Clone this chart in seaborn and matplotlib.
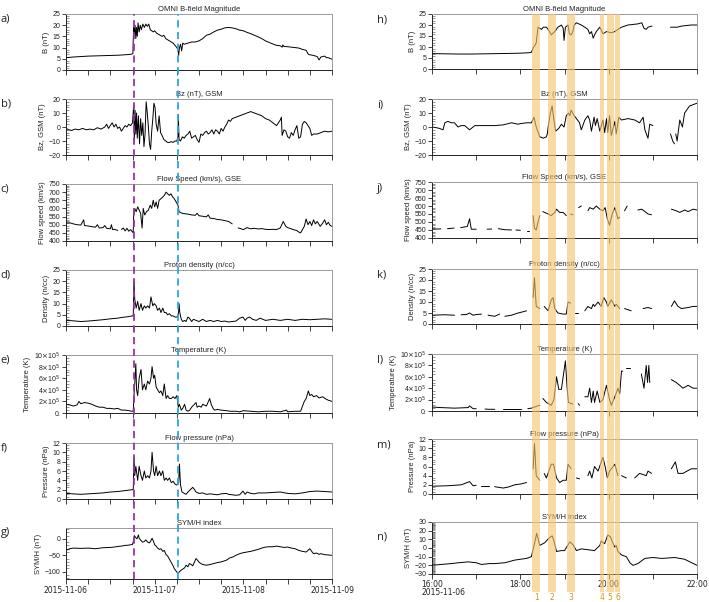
import numpy as np
import pandas as pd
import matplotlib
matplotlib.use("Agg")
import matplotlib.pyplot as plt
from matplotlib.ticker import MultipleLocator, FixedLocator
import seaborn as sns

nan = np.nan

# ---------------------------------------------------------------------------
# Daten (Stunden ab 2015-11-06 00:00, Werte abgelesen)
# ---------------------------------------------------------------------------
B_LEFT = [(0, 5.5), (2, 5.8), (4, 6.0), (6, 6.2), (8, 6.3), (10, 6.4), (12, 6.5), (14, 6.6), (16, 6.8),
          (17.5, 7.0), (18.1, 7.3), (18.3, 19), (18.5, 16), (18.7, 20), (18.9, 14), (19.1, 19), (19.3, 15),
          (19.5, 21), (19.8, 17), (20.1, 20), (20.4, 18), (20.8, 20.5), (21.2, 19), (21.6, 20.5), (22.0, 19.5),
          (22.4, 20.5), (22.8, 18), (23.2, 17.5), (23.6, 17), (24.0, 17.5), (24.5, 16.5), (25.0, 16),
          (25.5, 15.5), (26.0, 15), (26.5, 15.5), (27.0, 14), (27.5, 13.5), (28.0, 13), (28.5, 12.5),
          (29.0, 12), (29.5, 11), (30.0, 10), (30.3, 9), (30.5, 6.5), (30.7, 10), (31.0, 11.5), (31.3, 8.5),
          (31.6, 12), (32.0, 11.5), (33, 12), (34, 12.5), (35, 12.5), (36, 13), (37, 14), (38, 15.5), (39, 16),
          (40, 17), (41, 17.8), (42, 18.2), (43, 18.8), (44, 19), (45, 18.8), (46, 18.4), (47, 17.8),
          (48, 17.5), (49, 16.8), (50, 16.2), (51, 15.5), (52, 14.8), (53, 14), (54, 13), (55, 12.3),
          (56, 11.6), (57, 11), (58, 10.8), (58.5, 10.2), (58.7, 11.2), (59, 10.5), (60, 10.4), (61, 10.2),
          (62, 10.0), (63, 9.8), (64, 9.2), (65, 8.8), (65.6, 7), (66, 6.8), (67, 6.5), (68, 6.0),
          (68.5, 4.5), (69, 5.8), (70, 6.2), (70.5, 5.5), (71, 5.5), (72, 4.8)]

BZ_LEFT = [(0, -1), (0.8, -2), (1.5, -2.5), (2.5, -1.5), (3.5, -2), (4.5, -1), (5.5, -2), (6.5, -1.5),
           (7.5, -2), (8.5, -0.5), (9.5, -1.5), (10.5, 0), (11, 2), (11.5, -1), (12, 1), (12.5, 3), (13, 0),
           (13.5, 2), (14, -1), (14.5, 0), (15, -3), (15.5, -1), (16, 1), (16.5, 0), (17, 2), (17.5, 1),
           (18, 3), (18.3, 15), (18.5, -10), (18.7, 12), (18.9, -5), (19.1, 10), (19.3, -8), (19.6, 8),
           (19.9, -12), (20.2, 6), (20.5, -6), (20.8, 3), (21.1, -14), (21.4, -5), (21.7, 18), (22.0, 10),
           (22.3, 0), (22.6, -12), (22.9, -16), (23.2, -3), (23.5, 6), (23.8, 17), (24.1, 14), (24.4, 2),
           (24.8, -3), (25.2, 8), (25.6, -4), (26.0, -6), (26.5, -9), (27, -10), (27.5, -11), (28, -11),
           (28.5, -10.5), (29, -11), (29.5, -10), (30, -10), (30.3, -7), (30.4, 9), (30.6, -9), (31, -10),
           (31.5, -7), (32, -8), (32.5, -6), (33, -5), (33.5, -3), (34, -8), (34.5, -7), (35, -6), (35.5, -9),
           (36, -11), (36.5, -5), (37, -6), (37.5, -4), (38, -3), (38.5, -5), (39, -4), (39.5, -2), (40, -5),
           (40.5, -2), (41, -3), (41.5, -5), (42, -1), (42.5, -3), (43, 0), (43.5, 2), (44, 5), (44.5, 4),
           (45, 6), (46, 7), (47, 8), (48, 9), (49, 10), (50, 11), (51, 10), (52, 9), (53, 8), (54, 6),
           (55, 5), (56, 3), (57, 1), (57.5, 3), (58, 5), (58.3, 7), (58.5, -6), (59, -2), (59.5, -3),
           (60, -7), (60.5, -8), (61, -4), (61.5, -6), (62, -2), (62.5, 1), (63, -8), (63.5, -7), (64, 2),
           (64.5, 4), (65, 3), (65.5, 1), (66, -1), (66.5, -6), (67, -5), (68, -5), (69, -4), (70, -3),
           (71, -3.5), (72, -3)]

V_LEFT = [(0, 510), (1, 512), (2, 505), (3, 500), (4, 498), (4.8, 530), (5, 495), (6, 492), (7, 488),
          (8, 485), (8.5, 500), (9, 480), (10, 482), (10.5, 495), (11, 478), (12, 475), (12.3, 500),
          (12.6, 470), (13, 472), (14, 465), (14.5, nan), (15, 470), (15.5, 480), (16, 462), (16.5, 478),
          (17, 460), (17.5, 470), (18, 455), (18.2, 452), (18.3, 550), (18.6, 600), (19.0, 580), (19.4, 610),
          (19.8, 590), (20.2, 570), (20.6, 480), (20.9, 600), (21.3, 560), (21.8, 580), (22.3, 590),
          (22.8, 620), (23.2, 600), (23.6, 650), (24.0, 610), (24.4, 640), (24.8, 600), (25.2, 650),
          (25.7, 660), (26.2, 670), (26.6, 680), (27.1, 700), (27.5, 690), (28.0, 680), (28.4, 690),
          (28.9, 670), (29.3, 660), (29.8, 640), (30.3, 620), (30.6, 580), (31, 575), (31.5, 570),
          (32, 568), (33, 565), (34, 560), (35, 558), (35.5, 570), (36, 555), (37, 552), (38, 548),
          (38.5, 560), (39, 540), (40, 538), (41, 532), (42, 530), (43, 525), (44, 520), (45, 505),
          (45.6, nan), (46.6, 480), (47, 478), (48, 470), (49, 482), (50, 475), (51, 478), (52, 474),
          (53, 476), (54, 472), (55, 470), (56, 472), (57, 470), (58, 480), (58.8, 520), (59.5, 490),
          (60, 482), (60.6, 478), (61.5, 470), (62.4, 465), (63, 455), (63.5, 450), (64, 470), (64.5, 490),
          (65, 535), (65.5, 500), (66, 520), (66.5, 495), (67, 530), (67.5, 505), (68, 520), (68.8, 490),
          (69.5, 510), (70, 530), (70.5, 500), (71, 515), (71.5, 495), (72, 490)]

N_LEFT = [(0, 2.5), (2, 2.3), (4, 2), (6, 2.2), (8, 2.5), (10, 2.8), (12, 3.2), (14, 3.5), (15, 3.8),
          (16, 4), (17, 4.2), (17.8, 4.5), (18.2, 4.5), (18.4, 21), (18.6, 12), (19, 8), (19.4, 11),
          (19.8, 7), (20.3, 10), (20.7, 7), (21.2, 9), (21.6, 8), (22.1, 9), (22.6, 8), (23.0, 13),
          (23.5, 9), (23.9, 10), (24.4, 9), (24.8, 7), (25.3, 8), (25.7, 6), (26.2, 8), (26.6, 6), (27.1, 6),
          (27.5, 5), (28, 5.5), (28.5, 4.5), (29, 4.5), (29.5, 4), (30, 4), (30.4, 4.5), (30.6, 10),
          (30.8, 6), (31.2, 3), (31.6, 2), (32.1, 2.5), (32.5, 2), (33, 4), (33.4, 3.5), (34, 2), (34.5, 3),
          (35.2, 2.5), (36, 2), (37, 3), (38, 2), (39, 2.5), (40, 2), (41, 2.5), (42, 2), (43, 2.2),
          (44, 1.8), (45, 2), (46, 2.2), (47, 3.5), (47.9, 4), (48.5, 2.5), (49, 3.5), (49.7, 4), (50.5, 3),
          (51.5, 2.5), (52.5, 3.5), (54, 2.5), (56, 3), (58, 2.5), (60, 3), (62, 2.5), (64, 3), (66, 2.8),
          (68, 3), (70, 3.2), (72, 3)]

# Temperatur in Einheiten von 1e5 K
T_LEFT = [(0, 1.5), (1, 1.4), (2, 1.2), (3, 1.4), (3.5, 2.0), (4, 1.6), (5, 1.8), (6, 1.7), (7, 1.5),
          (8, 1.2), (9, 1.0), (10, 1.0), (11, 0.8), (12, 0.8), (13, 0.7), (14, 0.8), (15, 0.5), (16, 0.5),
          (17, 0.4), (17.8, 0.3), (18.2, 0.3), (18.4, 3), (18.6, 5), (18.9, 8.5), (19.1, 4), (19.4, 3),
          (19.8, 6), (20.3, 7.5), (20.7, 4), (21.2, 5), (21.6, 4), (22.1, 5.5), (22.6, 5), (23.0, 6),
          (23.3, 8), (23.7, 6), (24.0, 6.5), (24.4, 4.5), (24.8, 4), (25.3, 3.5), (25.7, 3.8), (26.2, 3),
          (26.6, 5), (27.1, 2.5), (27.5, 3), (28, 2.5), (28.5, 2.5), (29, 2.8), (29.5, 2.5), (30, 3),
          (30.4, 1), (30.7, 1.5), (31.2, 0.5), (31.6, 0.8), (32.1, 1.5), (32.5, 0.5), (33, 0.3), (33.5, 0.5),
          (34, 1), (35.2, 1.8), (35.5, 1), (36, 1.2), (36.6, 1), (37, 1.5), (38, 1.2), (38.9, 2.5),
          (39.3, 1.5), (39.8, 0.8), (40.2, 0.5), (41, 0.6), (42, 0.5), (43.4, 0.4), (44.5, 0.3), (46, 0.3),
          (47, 0.2), (48, 0.4), (50, 0.3), (52, 0.2), (54, 0.3), (56, 0.3), (58, 0.2), (59.7, 0.5), (60, 0.2),
          (62, 0.3), (63.5, 0.3), (64.2, 1.5), (64.5, 2.0), (65, 2.5), (65.6, 3.8), (66, 3), (66.5, 3.2),
          (67, 2.8), (67.8, 3), (68.5, 2.6), (69.5, 2.8), (70.1, 2.5), (71, 2.2), (72, 2)]

P_LEFT = [(0, 1.2), (2, 1.1), (4, 1.0), (6, 1.1), (8, 1.2), (10, 1.3), (12, 1.5), (14, 1.6), (16, 1.8),
          (17, 1.9), (18, 2), (18.2, 2), (18.4, 9), (18.6, 5), (18.9, 7), (19.4, 4), (19.8, 7), (20.3, 5),
          (20.7, 4), (21.2, 6), (21.6, 4.5), (22.1, 5), (22.6, 4.5), (23.0, 6), (23.3, 10), (23.7, 6),
          (24, 5), (24.4, 7), (24.8, 5), (25.3, 6), (25.7, 5), (26.2, 6), (26.6, 4), (27.1, 4.5), (27.5, 4),
          (28, 4.5), (28.5, 3.5), (29, 3.8), (29.5, 3.2), (30, 3), (30.5, 3.5), (30.7, 7.5), (31, 3),
          (31.4, 1.5), (32, 1.2), (32.5, 1), (33, 1.5), (34.3, 2.5), (34.8, 2), (35.2, 1.5), (36, 1.2),
          (37, 1.3), (38, 1), (39, 1.1), (40, 1), (41, 0.9), (42, 1.1), (43.4, 1.2), (44, 1), (45, 0.9),
          (46, 0.8), (47, 0.9), (47.9, 1.7), (48.5, 1), (49, 1.5), (50, 1.2), (51, 1.1), (52, 1.3),
          (54, 1.3), (56, 1.4), (58, 1.5), (60, 1.2), (62, 1.1), (64, 1.3), (66, 1.6), (68, 1.7), (70, 1.6),
          (72, 1.5)]

SYMH_LEFT = [(0, -35), (1, -30), (2, -28), (4, -29), (6, -28), (8, -30), (10, -27), (12, -26), (13, -25),
             (14, -23), (15, -22), (16, -20), (17, -19), (18, -17), (18.3, -5), (18.5, 10), (18.8, 5),
             (19.2, 0), (19.6, 12), (19.8, 2), (20.3, -5), (20.7, -10), (21.2, -8), (21.6, -3), (22.1, -10),
             (22.6, -12), (23.0, -5), (23.3, 2), (23.7, -8), (24.0, -18), (24.4, -22), (24.8, -28),
             (25.3, -32), (25.7, -30), (26.2, -38), (26.6, -35), (27.1, -48), (27.5, -52), (28, -62),
             (28.4, -70), (28.9, -80), (29.3, -90), (29.8, -98), (30.3, -105), (30.7, -100), (31.2, -95),
             (31.6, -92), (32.1, -88), (32.5, -80), (33, -85), (33.4, -75), (33.9, -78), (34.3, -82),
             (35.2, -60), (35.6, -65), (36.1, -72), (37, -78), (38, -80), (39, -78), (40, -75), (41, -72),
             (42, -70), (43.4, -65), (44.3, -58), (45.2, -55), (46, -50), (47, -45), (48, -42), (49, -40),
             (50, -38), (51, -35), (52, -32), (53, -28), (54, -25), (55, -24), (56, -24), (57, -22),
             (58, -24), (59, -26), (60, -25), (61, -28), (62, -30), (63, -35), (64, -38), (65, -40),
             (65.5, -35), (66, -30), (66.5, -38), (67, -45), (67.8, -43), (68.5, -47), (69, -45), (70, -48),
             (71, -49), (72, -50)]

# Rechte Spalte: Uhrzeit (h) am 2015-11-06
B_RIGHT = [(16.0, 7.0), (16.3, 6.9), (16.6, 6.8), (16.9, 6.8), (17.2, 6.9), (17.5, 7.0), (17.8, 7.1),
           (18.0, 7.2), (18.2, 7.4), (18.25, 7.6), (18.3, 10), (18.34, 11), (18.36, 12), (18.4, 19),
           (18.44, 18.5), (18.48, 18), (18.52, 19), (18.59, 19), (18.63, 18), (18.66, 17), (18.70, 15.5),
           (18.75, 16.5), (18.78, 17), (18.85, 19), (18.93, 20), (18.97, 18.5), (18.99, 13), (19.02, 19),
           (19.08, 20), (19.11, 16), (19.15, 15.5), (19.19, 17), (19.22, 20), (19.27, 21), (19.38, 20),
           (19.46, 19), (19.53, 18), (19.57, 16), (19.61, 17), (19.65, 14), (19.68, 15.5), (19.72, 17),
           (19.80, 19), (19.87, 16), (19.95, 17), (20.06, 16.5), (20.14, 17), (20.21, 18), (20.29, 19),
           (20.44, 20), (20.66, 20.5), (20.75, 21), (20.80, 18.5), (20.85, 18), (20.89, 19), (20.98, 19.5),
           (21.0, nan), (21.40, 19), (21.55, 19), (21.65, 19.5), (21.87, 20), (22.0, 20)]

BZ_RIGHT = [(16.0, 0), (16.1, -0.5), (16.17, -1), (16.25, -2), (16.29, 3), (16.36, 4), (16.44, 3),
            (16.51, 3), (16.59, 0), (16.66, 1), (16.74, 1), (16.85, -2), (16.97, 1), (17.12, 1), (17.27, 1),
            (17.42, 1), (17.61, 1.5), (17.80, 3), (17.95, 2), (18.02, 2.5), (18.14, 3), (18.25, 3),
            (18.31, 7), (18.36, 0), (18.44, -7), (18.52, -8), (18.59, -7), (18.61, -5), (18.63, 0),
            (18.68, 10), (18.72, 15), (18.76, 5), (18.80, -3), (18.87, -1), (18.93, 2), (18.99, 0),
            (19.04, 8), (19.09, 10), (19.12, 8), (19.15, 12), (19.22, 8), (19.27, 6), (19.34, 3),
            (19.38, -2), (19.46, 5), (19.53, 8), (19.57, 5), (19.61, -3), (19.67, 7), (19.70, 1), (19.74, 6),
            (19.80, -3), (19.87, 5), (19.91, -4), (19.95, 6), (19.98, -4), (20.02, 8), (20.06, -6),
            (20.14, 4), (20.17, -5), (20.23, 7), (20.29, 5), (20.44, 6), (20.59, 5), (20.70, 3), (20.78, 7),
            (20.82, -2), (20.89, -8), (20.93, 2), (21.0, 1), (21.05, nan), (21.40, -5), (21.45, -10),
            (21.49, -12), (21.50, nan), (21.52, -5), (21.55, -10), (21.61, 5), (21.67, 0), (21.72, 10),
            (21.83, 15), (22.0, 17)]

V_RIGHT = [(16.0, 455), (16.2, 457), (16.3, nan), (16.35, 458), (16.5, 462), (16.6, nan), (16.65, 465),
           (16.8, 472), (16.85, 520), (16.89, 455), (17.0, 455), (17.2, nan), (17.25, 455), (17.35, 456),
           (17.4, nan), (17.5, 458), (17.65, 452), (17.8, 450), (17.85, nan), (17.9, 450), (18.0, 448),
           (18.05, nan), (18.15, 445), (18.2, 445), (18.25, nan), (18.29, 540), (18.32, 460), (18.36, 450),
           (18.40, 500), (18.44, 540), (18.46, nan), (18.51, 565), (18.63, 550), (18.70, 540), (18.78, 560),
           (18.82, 580), (18.89, 560), (18.97, 560), (19.04, 540), (19.06, nan), (19.14, 550), (19.19, 545),
           (19.22, nan), (19.32, 590), (19.38, 600), (19.40, nan), (19.53, 570), (19.57, 590), (19.65, 580),
           (19.72, 600), (19.80, 580), (19.87, 570), (19.92, 590), (19.97, 520), (20.02, 480), (20.08, 550),
           (20.14, 590), (20.21, 520), (20.25, 530), (20.27, nan), (20.36, 570), (20.42, 600), (20.44, nan),
           (20.59, 570), (20.63, nan), (20.66, 575), (20.75, 580), (20.80, 570), (20.89, 550), (20.97, 545),
           (21.0, nan), (21.42, 580), (21.53, 570), (21.61, 560), (21.72, 575), (21.80, 565), (21.91, 580),
           (22.0, 575)]

N_RIGHT = [(16.0, 4), (16.29, 4.2), (16.51, 4), (16.6, nan), (16.66, 4.2), (16.78, 4.3), (16.85, 5),
           (16.93, 4), (17.0, 4.3), (17.12, 4.5), (17.2, nan), (17.27, 4), (17.42, 3.5), (17.53, 4.5),
           (17.6, nan), (17.65, 3.5), (17.80, 4), (17.95, 5), (18.05, 5.5), (18.14, 6), (18.18, nan),
           (18.29, 12), (18.32, 21), (18.36, 8), (18.44, 7), (18.46, nan), (18.54, 8), (18.63, 6),
           (18.70, 11), (18.74, 12), (18.78, 7), (18.85, 5), (18.97, 4.5), (19.04, 4.5), (19.08, 10),
           (19.14, 9.5), (19.16, nan), (19.23, 5), (19.31, 5), (19.33, nan), (19.46, 6), (19.53, 8),
           (19.61, 7), (19.65, 9), (19.68, 8), (19.76, 10), (19.83, 8), (19.89, 12), (19.95, 10), (19.98, 8),
           (20.06, 11), (20.14, 8), (20.17, 9), (20.25, 7), (20.27, nan), (20.36, 7), (20.51, 6), (20.55, nan),
           (20.66, 6), (20.70, nan), (20.78, 7), (20.89, 7.5), (20.97, 7), (21.0, nan), (21.42, 8),
           (21.49, 10.5), (21.57, 8), (21.65, 7), (21.80, 7.5), (21.91, 8), (22.0, 8)]

T_RIGHT = [(16.0, 0.7), (16.2, 0.6), (16.51, 0.5), (16.82, 0.6), (16.85, 0.9), (16.93, 0.4), (17.0, 0.4),
           (17.1, nan), (17.2, 0.35), (17.27, 0.3), (17.42, 0.3), (17.5, nan), (17.6, 0.3), (17.8, 0.3),
           (18.02, 0.3), (18.1, nan), (18.17, 0.4), (18.25, 0.5), (18.36, 0.8), (18.44, 1), (18.46, nan),
           (18.51, 2.2), (18.59, 1.5), (18.70, 1), (18.76, 2), (18.82, 6), (18.87, 3.8), (18.93, 3.8),
           (19.02, 8.8), (19.06, 4), (19.09, 1.5), (19.19, 1.2), (19.21, nan), (19.31, 1.3), (19.34, 1),
           (19.36, nan), (19.46, 2.5), (19.53, 2.5), (19.57, 4), (19.61, 1.5), (19.65, 3.5), (19.68, 1.5),
           (19.74, 3.5), (19.80, 1.5), (19.87, 2), (19.95, 4.5), (20.02, 2), (20.06, 1), (20.14, 2.5),
           (20.21, 4), (20.25, 3), (20.29, 7), (20.32, 7), (20.34, nan), (20.40, 7.5), (20.48, 7.5),
           (20.50, nan), (20.74, 6.5), (20.80, 4), (20.85, 8), (20.88, 5), (20.91, 8), (20.93, 5),
           (20.95, nan), (21.42, 5.5), (21.53, 5), (21.61, 4.5), (21.68, 4), (21.80, 4.5), (21.91, 4),
           (22.0, 4)]

P_RIGHT = [(16.0, 1.7), (16.36, 1.8), (16.66, 2), (16.85, 2.7), (16.93, 1.8), (17.0, 1.9), (17.1, nan),
           (17.12, 1.8), (17.3, 1.8), (17.35, nan), (17.42, 1.6), (17.61, 1.3), (17.72, 1.5), (17.87, 2),
           (18.02, 2.2), (18.14, 2.5), (18.18, nan), (18.29, 5.5), (18.32, 11), (18.36, 4), (18.44, 3),
           (18.46, nan), (18.54, 4.5), (18.59, 3.5), (18.70, 6.5), (18.75, 6.5), (18.82, 3.5), (18.89, 2.5),
           (18.97, 3), (19.04, 3), (19.08, 6.5), (19.15, 5.5), (19.17, nan), (19.27, 3.5), (19.34, 3.3),
           (19.36, nan), (19.53, 4), (19.57, 5), (19.62, 3.5), (19.68, 6), (19.76, 5), (19.87, 8),
           (19.92, 6), (19.97, 3.5), (20.02, 5), (20.14, 6.5), (20.21, 4), (20.23, nan), (20.29, 4),
           (20.40, 3.5), (20.42, nan), (20.59, 3.5), (20.70, 4.5), (20.85, 4), (20.89, 5), (20.97, 4.5),
           (21.0, nan), (21.42, 5.5), (21.51, 7), (21.57, 4.5), (21.68, 4.5), (21.87, 5.5), (22.0, 5.5)]

SYMH_RIGHT = [(16.0, -20), (16.2, -19), (16.44, -18), (16.6, -17), (16.82, -16), (17.0, -17), (17.12, -19),
              (17.3, -18), (17.42, -18), (17.65, -17), (17.87, -14), (18.0, -13), (18.14, -12), (18.25, -10),
              (18.32, 5), (18.37, 17), (18.44, 3), (18.55, 6), (18.66, 12), (18.72, 14), (18.75, 10),
              (18.82, -4), (18.93, -3), (19.0, -3), (19.06, 2), (19.12, 7), (19.19, 4), (19.27, -3),
              (19.38, -1), (19.53, -2), (19.68, -3), (19.80, 3), (19.83, 8), (19.91, 5), (19.98, 15),
              (20.04, 13), (20.10, 5), (20.14, 1), (20.17, 3), (20.21, -4), (20.29, -8), (20.40, -10),
              (20.48, -17), (20.55, -20), (20.66, -18), (20.82, -12), (21.0, -11), (21.2, -12), (21.5, -11),
              (21.72, -13), (22.0, -20)]

EVENT_LINES = [18.3, 30.4]                      # Stoß (lila), SYM/H-Minimum (blau)
BAND_STARTS = [18.27, 18.63, 19.05, 19.80, 19.96, 20.15]
BAND_ENDS = [18.45, 18.81, 19.23, 19.90, 20.11, 20.26]
BAND_LABELS = ["1", "2", "3", "4", "5", "6"]

TITLES = ["OMNI B-field Magnitude", "Bz (nT), GSM", "Flow Speed (km/s), GSE", "Proton density (n/cc)",
          "Temperature (K)", "Flow pressure (nPa)", "SYM/H index"]
YLABELS = ["B (nT)", "Bz, GSM (nT)", "Flow speed (km/s)", "Density (n/cc)", "Temperature (K)",
           "Pressure (nPa)", "SYM/H (nT)"]
LEFT_LETTERS = ["a)", "b)", "c)", "d)", "e)", "f)", "g)"]
RIGHT_LETTERS = ["h)", "i)", "j)", "k)", "l)", "m)", "n)"]
LEFT_DAY_LABELS = ["2015-11-06", "2015-11-07", "2015-11-08", "2015-11-09"]
RIGHT_HOUR_LABELS = ["16:00", "", "18:00", "", "20:00", "", "22:00"]
TEMP_TICKS = [0, 2, 4, 6, 8, 10]
TEMP_TICK_LABELS = ["0.", r"2$\times$10$^5$", r"4$\times$10$^5$", r"6$\times$10$^5$",
                    r"8$\times$10$^5$", r"10$\times$10$^5$"]

# ---------------------------------------------------------------------------
# Layout (Pixel)
# ---------------------------------------------------------------------------
W, H = 709, 602
LEFT_X = (66, 332)
RIGHT_X = (432, 697)
LEFT_ROWS = [(14, 70), (99, 155), (184, 241), (270, 326), (355, 413), (443, 499), (528, 579)]
RIGHT_ROWS = [(14, 69), (99, 155), (182, 238), (269, 324), (354, 411), (439, 494), (522, 574)]
BAND_BOTTOM = 592

# ylim, major, minor
AXIS_SPECS = [((0, 25), 5, 1), ((-20, 20), 10, 2), ((400, 750), 50, 10), ((0, 25), 5, 1),
              ((0, 10), 2, 0.5), ((0, 12), 2, 0.5), (None, 50, 10)]

sns.set_theme(style="ticks")
plt.rcParams["font.family"] = ["Liberation Sans", "DejaVu Sans"]
plt.rcParams["axes.linewidth"] = 0.7

fig = plt.figure(figsize=(W / 100, H / 100), dpi=100)


def px_axes(xr, yr, **kw):
    x0, x1 = xr
    y0, y1 = yr
    return fig.add_axes([x0 / W, 1 - y1 / H, (x1 - x0) / W, (y1 - y0) / H], **kw)


def draw_series(ax, pairs):
    df = pd.DataFrame(pairs, columns=["t", "v"])
    df["seg"] = df["v"].isna().cumsum()
    df = df.dropna()
    sns.lineplot(data=df, x="t", y="v", units="seg", estimator=None, sort=False,
                 color="black", lw=0.7, ax=ax, legend=False)


def style_axes(ax, i, symh_lim):
    ylim, major, minor = AXIS_SPECS[i]
    ax.set_ylim(symh_lim if ylim is None else ylim)
    if i == 4:
        ax.yaxis.set_major_locator(FixedLocator(TEMP_TICKS))
        ax.set_yticklabels(TEMP_TICK_LABELS)
    else:
        ax.yaxis.set_major_locator(MultipleLocator(major))
    ax.yaxis.set_minor_locator(MultipleLocator(minor))
    for side in ("top", "right"):
        ax.spines[side].set_color("#9a9a9a")
    for side in ("left", "bottom"):
        ax.spines[side].set_color("#222222")
    ax.tick_params(axis="y", which="major", direction="out", length=3, width=0.6,
                   labelsize=5, pad=1, colors="#222222")
    ax.tick_params(axis="y", which="minor", direction="in", length=2, width=0.4, colors="#444444")
    ax.tick_params(axis="x", which="both", direction="out", length=3.5, width=0.6,
                   labelsize=5.5, pad=1.5, colors="#222222")
    ax.set_xlabel("")
    ax.set_ylabel(YLABELS[i], fontsize=5.5, labelpad=2, color="#222222")
    ax.set_title(TITLES[i], fontsize=5.5, pad=2.5, color="#222222")


left_data = [B_LEFT, BZ_LEFT, V_LEFT, N_LEFT, T_LEFT, P_LEFT, SYMH_LEFT]
right_data = [B_RIGHT, BZ_RIGHT, V_RIGHT, N_RIGHT, T_RIGHT, P_RIGHT, SYMH_RIGHT]

for i in range(7):
    # linke Spalte: drei Tage
    ax = px_axes(LEFT_X, LEFT_ROWS[i])
    draw_series(ax, left_data[i])
    ax.set_xlim(0, 72)
    ax.xaxis.set_major_locator(FixedLocator([0, 24, 48, 72]))
    ax.xaxis.set_minor_locator(MultipleLocator(6))
    style_axes(ax, i, (-122, 33))
    if i < 6:
        ax.set_xticklabels([])
    else:
        ax.set_xticklabels(LEFT_DAY_LABELS, family="DejaVu Sans")
    fig.text(0.5 / W, 1 - (LEFT_ROWS[i][0] + 5) / H, LEFT_LETTERS[i], fontsize=8,
             family="Open Sans", ha="left", va="center", color="#222222")

    # rechte Spalte: 16-22 Uhr
    ax = px_axes(RIGHT_X, RIGHT_ROWS[i])
    draw_series(ax, right_data[i])
    ax.set_xlim(16, 22)
    ax.set_xticks([16, 17, 18, 19, 20, 21, 22])
    style_axes(ax, i, (-30, 30))
    if i == 6:
        ax.yaxis.set_major_locator(MultipleLocator(10))
        ax.yaxis.set_minor_locator(MultipleLocator(1))
        ax.set_xticklabels(RIGHT_HOUR_LABELS, family="DejaVu Sans")
        ax.tick_params(axis="x", pad=1)
    else:
        ax.set_xticklabels([])
    letter_y = RIGHT_ROWS[i][0] + (15 if i == 6 else 6)
    fig.text(377 / W, 1 - letter_y / H, RIGHT_LETTERS[i], fontsize=8,
             family="Open Sans", ha="left", va="center", color="#222222")

fig.text(421 / W, 1 - 592.5 / H, "2015-11-06", fontsize=5.5, family="DejaVu Sans",
         ha="left", va="center", color="#222222")

# Gestrichelte Ereignislinien über die linke Spalte
ov_left = px_axes(LEFT_X, (LEFT_ROWS[0][0], LEFT_ROWS[-1][1]), zorder=10)
ov_left.set_xlim(0, 72)
ov_left.set_ylim(0, 1)
ov_left.axis("off")
ov_left.patch.set_alpha(0)
for x, c in zip(EVENT_LINES, ["#9b2fae", "#2aa7e0"]):
    ov_left.axvline(x, color=c, lw=1.3, ls=(0, (4, 2.5)))

# Orange Bänder über die rechte Spalte, Nummern darunter
band_h = BAND_BOTTOM - RIGHT_ROWS[0][0]
ov_right = px_axes(RIGHT_X, (RIGHT_ROWS[0][0], BAND_BOTTOM), zorder=10)
ov_right.set_xlim(16, 22)
ov_right.set_ylim(0, 1)
ov_right.axis("off")
ov_right.patch.set_alpha(0)
for x0, x1, lab in zip(BAND_STARTS, BAND_ENDS, BAND_LABELS):
    ov_right.axvspan(x0, x1, color="#f6c46e", alpha=0.62, lw=0)
    ov_right.text((x0 + x1) / 2, -5 / band_h, lab, transform=ov_right.get_xaxis_transform(),
                  ha="center", va="center", fontsize=5.5, color="#e38d12", family="DejaVu Sans",
                  clip_on=False)

fig.savefig("out.png", dpi=100)
